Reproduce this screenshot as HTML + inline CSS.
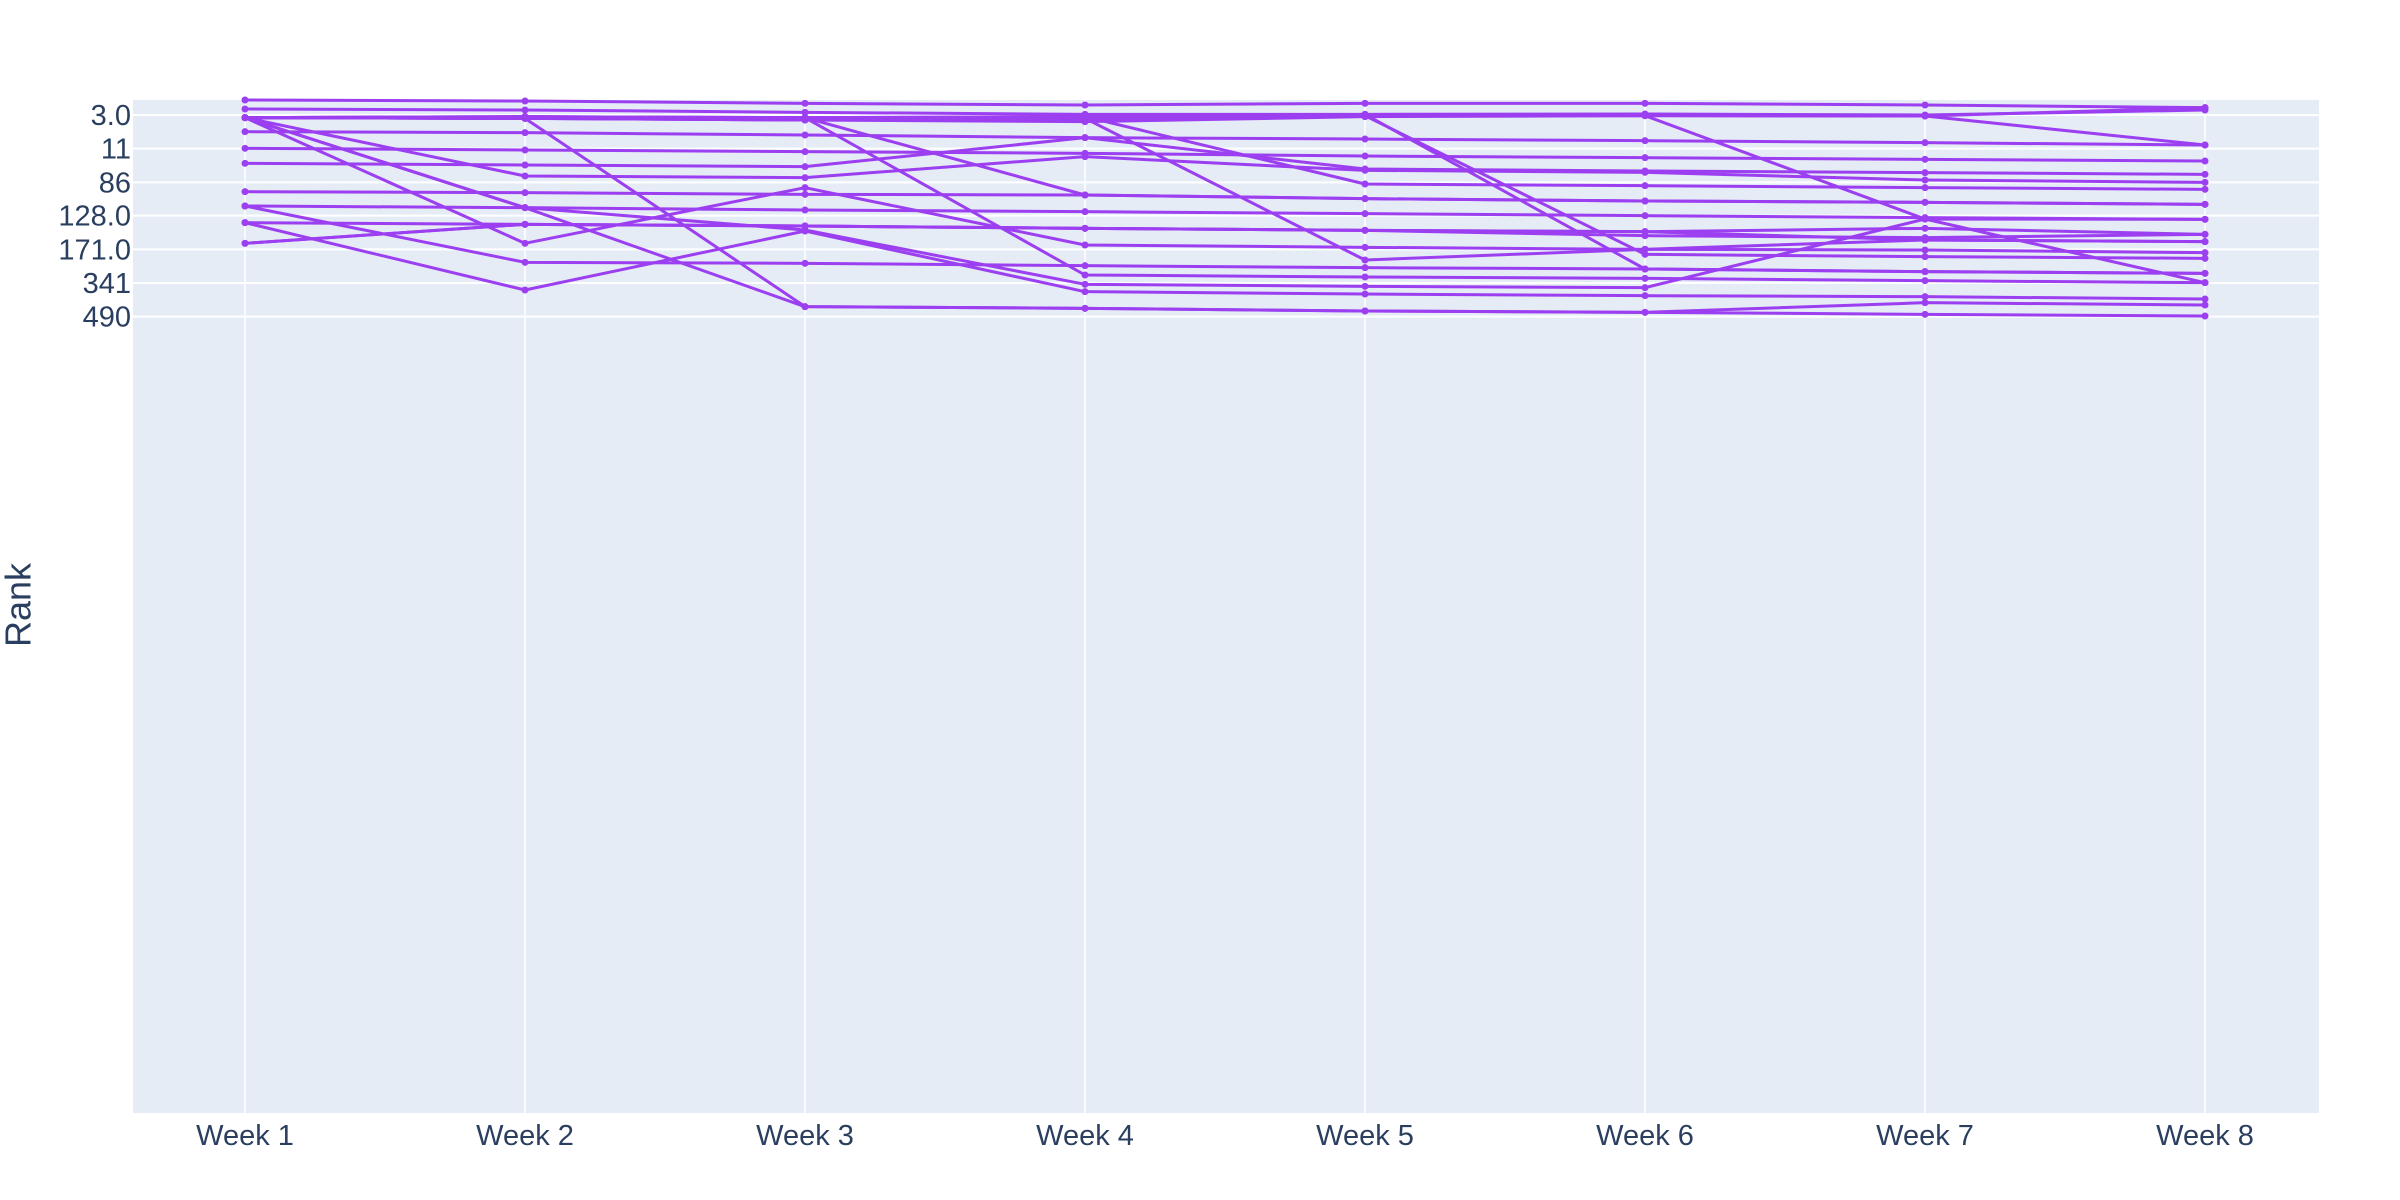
<!DOCTYPE html>
<html><head><meta charset="utf-8"><style>
html,body{margin:0;padding:0;background:#fff;}
svg{display:block;font-family:"Liberation Sans",sans-serif;}
</style></head><body>
<svg id="chart" width="2400" height="1200">
<rect x="0" y="0" width="2400" height="1200" fill="#fff"/>
<rect x="133" y="100" width="2186" height="1013" fill="#e5ecf6"/>
<g id="grid"></g><g id="series"></g><g id="axes"></g>
<text x="21" y="605" font-size="36" fill="#2a3f5f" text-anchor="middle" transform="rotate(-90 21 605)" dominant-baseline="middle">Rank</text>
</svg>
<script>
const categories = ["Week 1","Week 2","Week 3","Week 4","Week 5","Week 6","Week 7","Week 8"];
const tickVals = [0,101,202,302,403,504,605];
const tickLabels = ["3.0","11","86","128.0","171.0","341","490"];
const s1=[-45,-42,-35,-30,-35,-35,-30,-22];
const s2=[-18,-15,-8,-2,-2,-3,0,-15];
const s3=[8,5,8,5,2,2,3,90];
const s4=[8,10,15,20,5,2,312,503];
const s5=[8,10,8,15,2,418,425,430];
const s6=[8,5,10,10,-2,462,470,475];
const s7=[8,10,15,5,207,212,218,223];
const s8=[8,10,15,10,435,403,405,413];
const s9=[8,10,8,240,251,258,262,268];
const s10=[8,10,8,480,486,490,497,503];
const s11=[8,278,345,508,514,518,312,313];
const s12=[8,385,218,390,397,403,375,380];
const s13=[385,328,333,340,346,350,340,358];
const s14=[323,525,348,530,537,542,545,552];
const s15=[385,328,333,340,346,362,368,358];
const s16=[323,328,333,340,346,350,375,380];
const s17=[273,278,285,290,296,302,308,313];
const s18=[273,442,445,452,458,462,470,475];
const s19=[230,233,238,240,251,258,262,268];
const s20=[145,150,155,68,72,77,83,90];
const s21=[50,53,60,68,162,168,173,178];
const s22=[100,105,110,115,123,128,133,138];
const s23=[8,183,188,125,166,172,195,202];
const s24=[8,278,575,580,588,592,598,603];
const s25=[8,10,575,580,588,592,563,570];
const s26=[8,5,8,5,2,2,3,-22];
const allSeries=[s1,s2,s3,s4,s5,s6,s7,s8,s9,s10,s11,s12,s13,s14,s15,s16,s17,s18,s19,s20,s21,s22,s23,s24,s25,s26];

const NS="http://www.w3.org/2000/svg";
function xScale(i){return 245+i*(2205-245)/(categories.length-1);}
function yScale(v){return 100+(v+45)*(1113-100)/(2994+45);}
const grid=document.getElementById('grid'),axes=document.getElementById('axes'),ser=document.getElementById('series');
function mk(tag,attrs,parent){const e=document.createElementNS(NS,tag);for(const k in attrs)e.setAttribute(k,attrs[k]);parent.appendChild(e);return e;}
categories.forEach((c,i)=>{
  const l=mk('line',{x1:xScale(i),x2:xScale(i),y1:100,y2:1113,stroke:'#fff','stroke-width':1.5},grid);
  
  
  const t=mk('text',{x:xScale(i),y:1145,'font-size':29,fill:'#2a3f5f','text-anchor':'middle'},axes);
  t.textContent=c;
  
  
});
tickVals.forEach((v,i)=>{
  const l=mk('line',{x1:133,x2:2319,y1:yScale(v),y2:yScale(v),stroke:'#fff','stroke-width':2},grid);
  
  
  const t=mk('text',{x:131,y:yScale(v)+10,'font-size':29,fill:'#2a3f5f','text-anchor':'end'},axes);
  t.textContent=tickLabels[i];
  
  
});
allSeries.forEach((s,k)=>{
  const g=mk('g',{},ser);
  
  
  const pts=s.map((v,i)=>xScale(i)+','+yScale(v)).join(' ');
  const p=mk('polyline',{points:pts,fill:'none',stroke:'#9b3ff0','stroke-width':3,'stroke-linejoin':'round'},g);
  
  
  s.forEach((v,i)=>{
    const c=mk('circle',{cx:xScale(i),cy:yScale(v),r:3.5,fill:'#9b3ff0'},g);
    
    
  });
});
</script>
</body></html>
